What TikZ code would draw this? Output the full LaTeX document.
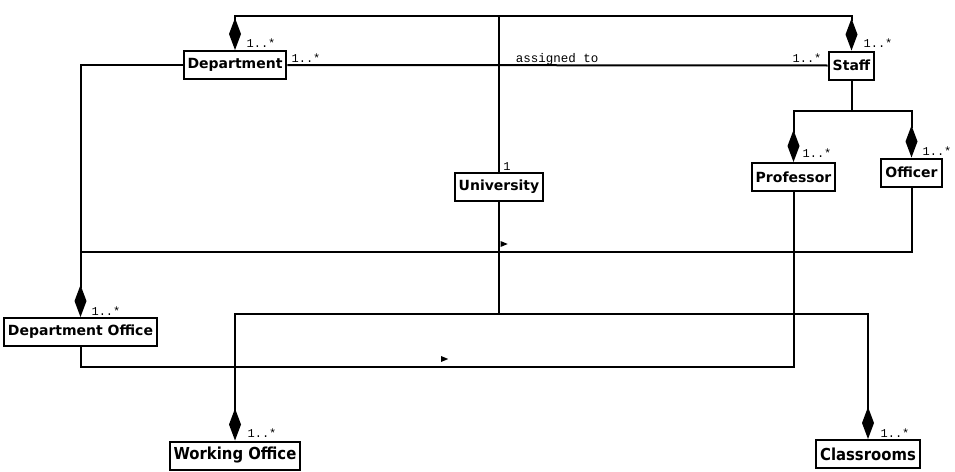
\documentclass[tikz,border=0pt]{standalone}
\usepackage{fontspec}
\newfontfamily\boxfont{DejaVu Sans}
\newfontfamily\condfont{DejaVu Sans Condensed}
\newfontfamily\multfont{Liberation Mono}
\usetikzlibrary{arrows.meta,shapes.geometric}

\begin{document}
\begin{tikzpicture}[x=1pt,y=-1pt,
    class/.style={draw, line width=2pt, inner xsep=4pt, inner ysep=0pt, minimum height=28pt, font=\boxfont\bfseries\fontsize{14}{16}\selectfont},
    wideclass/.style={class, font=\condfont\bfseries\fontsize{16.5}{18}\selectfont},
    assoc/.style={line width=2pt},
    comp/.style={assoc, -{Diamond[length=32pt,width=12pt]}},
    mult/.style={font=\multfont\fontsize{12}{13}\selectfont, inner sep=0pt},
    dirmark/.style={isosceles triangle, fill, inner sep=0pt, minimum height=7pt, minimum width=6pt}]
    \useasboundingbox (0,0) rectangle (955,471);
    % classes
    \node[class] (department) at (235,65) {Department};
    \node[class] (staff) at (851.5,65.5) {Staff};
    \node[class] (university) at (499,187) {University};
    \node[class] (professor) at (793.5,177) {Professor};
    \node[class] (officer) at (911.5,172.5) {Officer};
    \node[class] (deptoffice) at (80.5,332) {Department Office};
    \node[wideclass] (workoffice) at (235,455.5) {Working Office};
    \node[wideclass] (classrooms) at (868,454) {Classrooms};
    % joins
    \coordinate (topjoin) at (499,16);
    \coordinate (staffjoin) at (851.5,111);
    \coordinate (offjoin) at (80.5,252);
    \coordinate (profjoin) at (80.5,367);
    \coordinate (unijoin) at (499,314);
    % connectors
    \draw[comp] (university.north) -- (topjoin) -| (department.north);
    \draw[comp] (topjoin) -| (staff.north);
    \draw[assoc] (department.east) -- (staff.west);
    \draw[comp] (department.west) -| (deptoffice.north);
    \draw[comp] (staff.south) -- (staffjoin) -| (professor.north);
    \draw[comp] (staffjoin) -| (officer.north);
    \draw[assoc] (officer.south) |- (offjoin);
    \draw[assoc] (professor.south) |- (profjoin) -- (deptoffice.south);
    \draw[comp] (university.south) -- (unijoin) -| (workoffice.north);
    \draw[comp] (unijoin) -| (classrooms.north);
    % labels
    \node[mult] (mdepttop) at (261,43) {1..*};
    \node[mult] (mdeptright) at (306,58) {1..*};
    \node[mult, font=\multfont\fontsize{12.5}{13}\selectfont] (assigned) at (557,59) {assigned to};
    \node[mult] (mstaffleft) at (807,58) {1..*};
    \node[mult] (mstafftop) at (878,43) {1..*};
    \node[mult] (muni) at (507,167) {1};
    \node[mult] (mprof) at (817,153) {1..*};
    \node[mult] (mofficer) at (937,151) {1..*};
    \node[mult] (mdeptoffice) at (106,311) {1..*};
    \node[mult] (mworkoffice) at (262,433) {1..*};
    \node[mult] (mclassrooms) at (895,433) {1..*};
    % direction marks
    \node[dirmark] (dirofficer) at (502.5,244) {};
    \node[dirmark] (dirprof) at (443,359) {};
\end{tikzpicture}
\end{document}
